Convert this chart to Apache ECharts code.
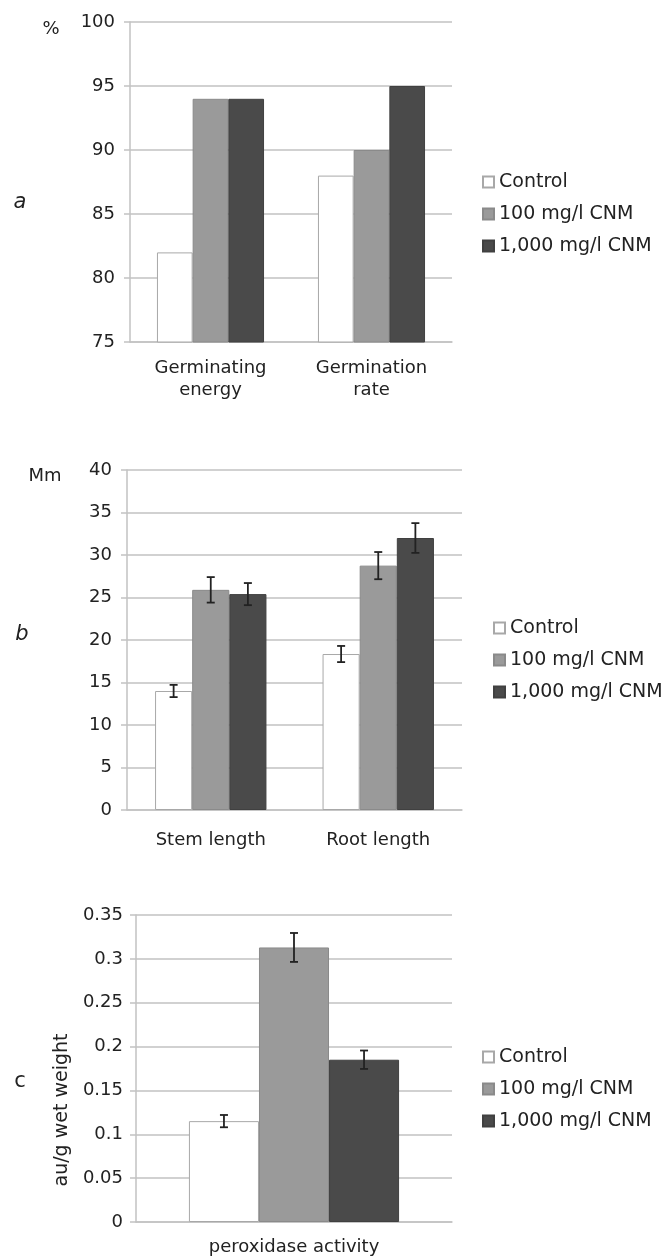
<!DOCTYPE html>
<html><head><meta charset="utf-8">
<script src="https://cdn.jsdelivr.net/npm/echarts@6/dist/echarts.min.js"></script>
<style>html,body{margin:0;padding:0;background:#fff}#c{width:666px;height:1258px}</style>
</head><body><div id="c"></div>
<script>
const seriesNames = ['Control', '100 mg/l CNM', '1,000 mg/l CNM'];

const catsA = ['Germinating\nenergy', 'Germination\nrate'];
const controlA = [82, 88];
const cnm100A = [94, 90];
const cnm1000A = [94, 95];

const catsB = ['Stem length', 'Root length'];
const controlB = [14.0, 18.35];
const cnm100B = [25.9, 28.75];
const cnm1000B = [25.4, 32.0];
const controlErrB = [0.72, 0.95];
const cnm100ErrB = [1.5, 1.6];
const cnm1000ErrB = [1.3, 1.75];

const catsC = ['peroxidase activity'];
const controlC = [0.115];
const cnm100C = [0.313];
const cnm1000C = [0.185];
const controlErrC = [0.007];
const cnm100ErrC = [0.0165];
const cnm1000ErrC = [0.0105];

const ticksA = {min: 75, max: 100, interval: 5};
const ticksB = {min: 0, max: 40, interval: 5};
const ticksC = {min: 0, max: 0.35, interval: 0.05};

const GAP = 0.335;
const colors = ['#ffffff', '#9a9a9a', '#4a4a4a'];
const borders = ['#a8a8a8', '#8a8a8a', '#404040'];
const txt = '#222';
const font = 'DejaVu Sans';
const gridCol = '#c2c2c2';

function bars(idx, arrs) {
  return arrs.map((d, k) => ({
    type: 'bar', name: seriesNames[k], xAxisIndex: idx, yAxisIndex: idx,
    data: d, barGap: '0%', barCategoryGap: (GAP * 100) + '%',
    itemStyle: {color: colors[k], borderColor: borders[k], borderWidth: 1},
    emphasis: {disabled: true}, animation: false
  }));
}
function errs(idx, vals, errArr) {
  return vals.map((vArr, k) => ({
    type: 'custom', name: 'err' + idx + '_' + k, xAxisIndex: idx, yAxisIndex: idx, z: 10,
    data: vArr.map((v, i) => [i, v, errArr[k][i]]),
    encode: {x: 0, y: 1}, animation: false, silent: true,
    renderItem: function (params, api) {
      const x = api.value(0), v = api.value(1), e = api.value(2);
      const band = api.size([1, 0])[0];
      const bw = band * (1 - GAP) / 3;
      const c = api.coord([x, v]);
      const cx = c[0] + (k - 1) * bw;
      const t = api.coord([x, v + e])[1], b = api.coord([x, v - e])[1];
      const st = {stroke: '#222', lineWidth: 1.8};
      return {type: 'group', children: [
        {type: 'line', shape: {x1: cx, y1: t, x2: cx, y2: b}, style: st},
        {type: 'line', shape: {x1: cx - 4, y1: t, x2: cx + 4, y2: t}, style: st},
        {type: 'line', shape: {x1: cx - 4, y1: b, x2: cx + 4, y2: b}, style: st}
      ]};
    }
  }));
}
function xAx(idx, cats, margin) {
  return {type: 'category', gridIndex: idx, data: cats,
    axisLine: {show: true, lineStyle: {color: gridCol, width: 1.5}},
    axisTick: {show: false},
    axisLabel: {color: txt, fontSize: 18, fontFamily: font, margin: margin, lineHeight: 22, interval: 0}};
}
function yAx(idx, t, margin) {
  return {type: 'value', gridIndex: idx, min: t.min, max: t.max, interval: t.interval,
    axisLine: {show: true, lineStyle: {color: gridCol, width: 1.5}},
    axisTick: {show: true, length: 6, lineStyle: {color: gridCol, width: 1.5}},
    splitLine: {show: true, lineStyle: {color: gridCol, width: 1.5}},
    axisLabel: {color: txt, fontSize: 18, fontFamily: font, margin: margin}};
}
function legend(left, top) {
  return {left: left, top: top, orient: 'vertical', data: seriesNames, icon: 'rect',
    padding: 0, itemWidth: 11, itemHeight: 11, itemGap: 12, selectedMode: false,
    textStyle: {color: txt, fontSize: 19, fontFamily: font, lineHeight: 20}};
}
function label(text, x, y, size, italic) {
  return {type: 'text', x: x, y: y, style: {text: text, fill: txt, align: 'center', verticalAlign: 'middle',
    font: (italic ? 'italic ' : '') + size + 'px "' + font + '"'}};
}

const chart = echarts.init(document.getElementById('c'), null, {renderer: 'canvas'});
chart.setOption({
  animation: false,
  backgroundColor: '#fff',
  grid: [
    {left: 130, top: 22, width: 322, height: 320},
    {left: 127, top: 470, width: 335, height: 340},
    {left: 136, top: 915, width: 316, height: 309}
  ],
  xAxis: [xAx(0, catsA, 15), xAx(1, catsB, 19), xAx(2, catsC, 14)],
  yAxis: [yAx(0, ticksA, 15), yAx(1, ticksB, 15), yAx(2, ticksC, 13)],
  legend: [legend(482, 172), legend(493, 618), legend(482, 1047)],
  graphic: [
    label('%', 51, 29, 18, false),
    label('Mm', 45, 476, 18, false),
    label('a', 20, 203, 21, true),
    label('b', 22, 635, 21, true),
    label('c', 20, 1082, 21, false),
    {type: 'text', x: 62, y: 1110, rotation: Math.PI / 2,
      style: {text: 'au/g wet weight', fill: txt, align: 'center', verticalAlign: 'middle',
        font: '19px "' + font + '"'}}
  ],
  series: [].concat(
    bars(0, [controlA, cnm100A, cnm1000A]),
    bars(1, [controlB, cnm100B, cnm1000B]),
    errs(1, [controlB, cnm100B, cnm1000B], [controlErrB, cnm100ErrB, cnm1000ErrB]),
    bars(2, [controlC, cnm100C, cnm1000C]),
    errs(2, [controlC, cnm100C, cnm1000C], [controlErrC, cnm100ErrC, cnm1000ErrC])
  )
});
</script></body></html>
